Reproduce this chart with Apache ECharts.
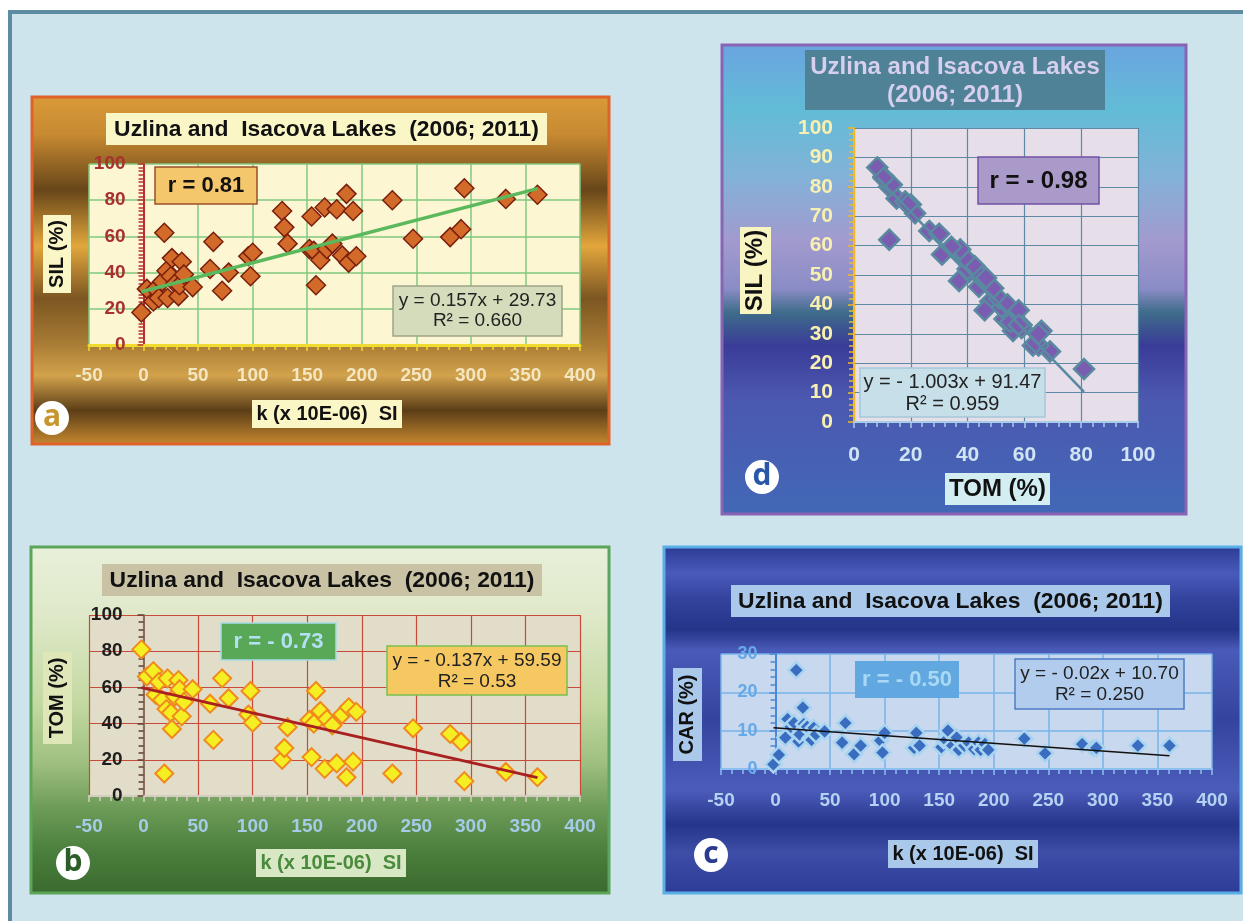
<!DOCTYPE html>
<html>
<head>
<meta charset="utf-8">
<script src="https://cdn.jsdelivr.net/npm/echarts@6/dist/echarts.min.js"></script>
<style>
  html, body { margin: 0; padding: 0; background: #ffffff; }
  #chart { width: 1243px; height: 921px; }
</style>
</head>
<body>
<div id="chart"></div>
<script>
// Samples from Uzlina and Isacova lakes (2006; 2011)
// magnetic susceptibility k (x 10E-06 SI) and sediment fractions (%)
const kValues   = [-2, 3, 9, 11, 14, 17, 19, 21, 22, 25, 26, 29, 32, 33, 35, 37, 45, 61, 64, 72, 78, 96, 98, 100,
                   127, 129, 132, 152, 154, 156, 158, 162, 166, 168, 173, 177, 182, 186, 188, 192, 195,
                   228, 247, 281, 291, 294, 332, 361];
const silValues = [18, 31, 24, 31, 26, 35, 62, 41, 26, 38, 48, 34, 27, 33, 46, 39, 32, 42, 57, 30, 40, 49, 38, 51,
                   74, 65, 56, 53, 71, 52, 33, 47, 76, 53, 56, 75, 49.5, 83.5, 45.5, 74, 49,
                   80, 58.7, 59.6, 64, 86.6, 80.7, 83];
const tomValues = [81, 66, 69, 56, 63, 53, 12.4, 48, 65, 46, 37, 55, 64, 59, 44, 52, 59, 51, 31, 65, 54, 45, 58, 40.5,
                   20, 26.5, 38, 42, 21.5, 40, 58, 47, 15, 42.5, 39, 18, 45, 10.4, 49, 19, 46.5,
                   12.4, 37.4, 34.3, 30, 8.2, 13.3, 10.4];
const carValues = [1.2, 3.7, 8.2, 13, 11, 12, 25.8, 7.2, 9, 16, 11.7, 11, 8, 7.6, 10.7, 9, 9.8, 6.9, 12, 3.9, 6.1, 7.4, 4.3, 9.4,
                   5.5, 9.4, 6.1, 5.7, 7.5, 7.5, 10, 6.1, 8.2, 5, 6.1, 6.9, 5.2, 6.9, 5, 6.5, 5,
                   7.9, 4.1, 6.5, 5.4, 5.5, 6.1, 6.1];

// Axis tick labels
const kTicks   = [-50, 0, 50, 100, 150, 200, 250, 300, 350, 400];
const pctTicks = [0, 20, 40, 60, 80, 100];
const carTicks = [0, 10, 20, 30];
const silTicksD = [0, 10, 20, 30, 40, 50, 60, 70, 80, 90, 100];
const tomTicksD = [0, 20, 40, 60, 80, 100];

// Linear fits [slope, intercept], coefficient of determination and correlation
const fitSilK = [0.157, 29.73];   const r2SilK = '0.660'; const rSilK = '0.81';
const fitTomK = [-0.137, 59.59];  const r2TomK = '0.53';  const rTomK = '- 0.73';
const fitCarK = [-0.02, 10.70];   const r2CarK = '0.250'; const rCarK = '- 0.50';
const fitSilTom = [-1.003, 91.47]; const r2SilTom = '0.959'; const rSilTom = '- 0.98';

const titleText = 'Uzlina and  Isacova Lakes  (2006; 2011)';
const FONT = '"Liberation Sans", Arial, sans-serif';

function pairs(xs, ys) { return xs.map((x, i) => [x, ys[i]]); }
function trend(fit, xs) {
  const lo = Math.min(...xs), hi = Math.max(...xs);
  return [[lo, fit[0] * lo + fit[1]], [hi, fit[0] * hi + fit[1]]];
}
function eqText(fit) {
  const s = fit[0] < 0 ? '- ' + Math.abs(fit[0]) : String(fit[0]);
  const b = fit[1] < 0 ? '- ' + Math.abs(fit[1]).toFixed(2) : '+ ' + fit[1].toFixed(2);
  return 'y = ' + s + 'x ' + b;
}
function ticksRange(t) { return { min: t[0], max: t[t.length - 1], interval: t[1] - t[0] }; }
function grad(stops) {
  return new echarts.graphic.LinearGradient(0, 0, 0, 1, stops.map(s => ({ offset: s[0], color: s[1] })));
}

const graphics = [];
function rect(x, y, w, h, fill, stroke, lw, z) {
  graphics.push({ type: 'rect', z: z == null ? 50 : z, shape: { x, y, width: w, height: h },
    style: { fill, stroke: stroke || null, lineWidth: lw || 0 } });
}
function text(x, y, str, size, color, opts) {
  opts = opts || {};
  graphics.push({ type: 'text', z: 60, x, y, rotation: opts.rot || 0, scaleX: opts.sx || 1,
    style: { text: str, fill: color, align: 'center', verticalAlign: 'middle',
      font: (opts.weight || 'bold') + ' ' + size + 'px ' + (opts.family || FONT) } });
}
function badge(cx, cy, letter, color) {
  graphics.push({ type: 'circle', z: 50, shape: { cx, cy, r: 17 }, style: { fill: '#ffffff' } });
  text(cx, cy - 1, letter, 30, color, { family: '"Open Sans", "DejaVu Sans", sans-serif' });
}

// page backdrop and frame
rect(10, 12, 1260, 940, '#cde4ec', '#5d8ca2', 4, -30);

// ---------- panel frames ----------
// a: SIL vs k
rect(32, 97, 577, 347, grad([[0, '#d99a38'], [0.11, '#c88a32'], [0.27, '#684619'], [0.43, '#e2a63c'],
  [0.58, '#7c5622'], [0.71, '#a87c34'], [0.80, '#d2a24c'], [0.90, '#5c3e17'], [1, '#c98a30']]), '#e0622a', 3, -20);
// d: SIL vs TOM
rect(722, 45, 464, 469, grad([[0, '#6aa4e0'], [0.14, '#62bcd6'], [0.28, '#82b2d8'], [0.42, '#a29ace'],
  [0.52, '#8a8cc6'], [0.57, '#3e6c8a'], [0.64, '#3a3c98'], [0.75, '#4c58b0'], [1, '#4268b6']]), '#8a64b4', 3, -20);
// b: TOM vs k
rect(31, 547, 578, 346, grad([[0, '#e8f0da'], [0.2, '#dfe9c9'], [0.45, '#c4d9a2'], [0.62, '#9fc080'],
  [0.75, '#6e9c58'], [0.88, '#4a7e3c'], [1, '#3a6a2e']]), '#5aa55a', 3, -20);
// c: CAR vs k
rect(664, 547, 577, 346, grad([[0, '#2a3a92'], [0.08, '#4a5abb'], [0.15, '#34449e'], [0.24, '#243488'],
  [0.3, '#4a5ab8'], [0.5, '#34449e'], [0.7, '#4c5cba'], [0.8, '#25358a'], [0.88, '#3e4ea8'], [1, '#2c3c96']]), '#5aaee8', 3, -20);

// ---------- panel a annotations ----------
rect(106, 113, 441, 32, '#fbf6c6');
text(326.5, 129.5, titleText, 22, '#111111', { sx: 1.04 });
rect(155, 167, 102, 37, '#f5c76c', '#9a5028', 1.5);
text(206, 186, 'r = ' + rSilK, 22, '#111111');
rect(393, 286, 169, 50, '#d5dcbc', '#a0a488', 1.5);
text(477.5, 300.5, eqText(fitSilK), 19, '#222222', { weight: 'normal' });
text(477.5, 321, 'R² = ' + r2SilK, 19, '#222222', { weight: 'normal' });
rect(43, 215, 28, 78, '#fbf6c6');
text(57, 254, 'SIL (%)', 20, '#111111', { rot: Math.PI / 2 });
rect(252, 400, 150, 28, '#fbf6c6');
text(327, 414.5, 'k (x 10E-06)  SI', 20, '#111111');
badge(52, 418, 'a', '#c8962e');

// ---------- panel d annotations ----------
rect(805, 50, 300, 60, '#4f8197');
text(955, 67, 'Uzlina and Isacova Lakes', 24, '#d6cfee');
text(955, 95, '(2006; 2011)', 24, '#d6cfee');
rect(978, 157, 121, 47, '#a99ac9', '#7352a6', 1.5);
text(1038.5, 181, 'r = ' + rSilTom, 24, '#111111');
rect(860, 368, 185, 49, '#c6dfe9', '#a5c8d8', 1.5);
text(952.5, 382.5, eqText(fitSilTom), 20, '#222222', { weight: 'normal' });
text(952.5, 404, 'R² = ' + r2SilTom, 20, '#222222', { weight: 'normal' });
rect(740, 227, 31, 87, '#f8f5c2');
text(755.5, 270.5, 'SIL (%)', 24, '#111111', { rot: Math.PI / 2 });
rect(945, 473, 105, 32, '#d2eef2');
text(997.5, 489.5, 'TOM (%)', 24, '#111111');
badge(762, 477, 'd', '#2a56a8');

// ---------- panel b annotations ----------
rect(102, 564, 440, 32, '#c9c2a4');
text(322, 580.5, titleText, 22, '#111111', { sx: 1.04 });
rect(221, 623, 115, 37, '#58a858', '#a8dce8', 1.5);
text(278.5, 642, 'r = ' + rTomK, 22, '#b4e0f2');
rect(387, 646, 180, 49, '#f5c862', '#78c050', 1.5);
text(477, 660.5, eqText(fitTomK), 19, '#222222', { weight: 'normal' });
text(477, 682, 'R² = ' + r2TomK, 19, '#222222', { weight: 'normal' });
rect(43, 652, 29, 92, '#dfe6b8');
text(57.5, 698, 'TOM (%)', 20, '#111111', { rot: Math.PI / 2 });
rect(256, 849, 150, 28, '#d8e8c4');
text(331, 863.5, 'k (x 10E-06)  SI', 20, '#4a8a3c');
badge(73, 863, 'b', '#2c5e28');

// ---------- panel c annotations ----------
rect(731, 585, 439, 32, '#a9c8ea');
text(950.5, 601.5, titleText, 22, '#111111', { sx: 1.04 });
rect(855, 661, 104, 37, '#62a8e0');
text(907, 680, 'r = ' + rCarK, 22, '#a8d8f4');
rect(1015, 659, 169, 50, '#b2ccee', '#4d7cc4', 1.5);
text(1099.5, 673.5, eqText(fitCarK), 19, '#222222', { weight: 'normal' });
text(1099.5, 695, 'R² = ' + r2CarK, 19, '#222222', { weight: 'normal' });
rect(673, 668, 29, 93, '#a9c8ea');
text(687.5, 714.5, 'CAR (%)', 20, '#111111', { rot: Math.PI / 2 });
rect(888, 840, 150, 28, '#a9c8ea');
text(963, 854.5, 'k (x 10E-06)  SI', 20, '#111111');
badge(711, 855, 'c', '#2b3c90');

// ---------- axes ----------
const gridBoxes = [
  { left: 89, top: 164, width: 491, height: 181, backgroundColor: '#fcf7d2' },   // a
  { left: 89, top: 615, width: 491, height: 181, backgroundColor: '#e2ddc8' },   // b
  { left: 721, top: 654, width: 491, height: 115, backgroundColor: '#c8d8ee' },  // c
  { left: 854, top: 128, width: 284, height: 294, backgroundColor: '#e6dfea' }   // d
];
const grids = gridBoxes.map(g => Object.assign({ show: true, borderWidth: 0, containLabel: false, outerBoundsMode: 'none' }, g));

function axis(ticks, o) {
  const r = ticksRange(ticks);
  return {
    gridIndex: o.grid, type: 'value', min: r.min, max: r.max, interval: r.interval,
    offset: o.offset || 0,
    axisLine: { show: true, onZero: false, lineStyle: { color: o.line, width: o.lineWidth || 2 } },
    axisTick: { show: true, inside: false, length: 6, lineStyle: { color: o.tick || o.line, width: 1.5 } },
    minorTick: { show: true, splitNumber: o.minor, length: 5, lineStyle: { color: o.tick || o.line, width: 1.5 } },
    axisLabel: { show: true, margin: o.margin, color: o.label, fontSize: o.size, fontWeight: 'bold', fontFamily: FONT },
    splitLine: { show: true, lineStyle: { color: o.grid_c, width: o.gridW || 1.5 } },
    minorSplitLine: { show: false }
  };
}
// the vertical axis stands at x = 0 of the horizontal scale
function zeroOffset(xTicks, gridIdx) {
  const r = ticksRange(xTicks);
  return -(0 - r.min) / (r.max - r.min) * gridBoxes[gridIdx].width;
}

const xAxes = [
  axis(kTicks, { grid: 0, line: '#f0dc30', lineWidth: 3, minor: 5, margin: 21, label: '#f3e6c0', size: 19, grid_c: '#80c880' }),
  axis(kTicks, { grid: 1, line: '#d2cdc0', minor: 5, margin: 21, label: '#a4cce8', size: 19, grid_c: '#c84a3a', gridW: 1.2 }),
  axis(kTicks, { grid: 2, line: '#8cc0f0', minor: 5, margin: 22, label: '#b4d2f2', size: 19, grid_c: '#78b4e8' }),
  axis(tomTicksD, { grid: 3, line: '#a8cce8', minor: 5, margin: 23, label: '#d0e4f4', size: 21, grid_c: '#5e88a4', gridW: 1.2 })
];
const yAxes = [
  axis(pctTicks, { grid: 0, offset: zeroOffset(kTicks, 0), line: '#b83030', minor: 10, margin: 18, label: '#a83030', size: 19, grid_c: '#80c880' }),
  axis(pctTicks, { grid: 1, offset: zeroOffset(kTicks, 1), line: '#8a7060', tick: '#5a4030', minor: 5, margin: 21, label: '#1e1e1e', size: 19, grid_c: '#c84a3a', gridW: 1.2 }),
  axis(carTicks, { grid: 2, offset: zeroOffset(kTicks, 2), line: '#4a88d8', minor: 5, margin: 18, label: '#66a8e8', size: 18, grid_c: '#78b4e8' }),
  axis(silTicksD, { grid: 3, offset: zeroOffset(tomTicksD, 3), line: '#f0b828', minor: 5, margin: 21, label: '#f8f0b0', size: 21, grid_c: '#5e88a4', gridW: 1.2 })
];

function scatter(i, data, size, fill, border, bw) {
  return { type: 'scatter', xAxisIndex: i, yAxisIndex: i, data, symbol: 'diamond', symbolSize: size,
    itemStyle: { color: fill, borderColor: border, borderWidth: bw, opacity: 1 }, z: 3, silent: true };
}
function line(i, data, color, width) {
  return { type: 'line', xAxisIndex: i, yAxisIndex: i, data, showSymbol: false, symbol: 'none',
    lineStyle: { color, width }, z: 4, silent: true };
}

const series = [
  scatter(0, pairs(kValues, silValues), 19, '#d26a2a', '#7a1e0e', 1.5),
  line(0, trend(fitSilK, kValues), '#5cb85c', 3.5),
  scatter(1, pairs(kValues, tomValues), 18, '#f5ee22', '#f08a1e', 2),
  line(1, trend(fitTomK, kValues), '#a82020', 3),
  scatter(2, pairs(kValues, carValues), 16, '#3a6cc0', '#a8d4f0', 2.5),
  line(2, trend(fitCarK, kValues), '#111111', 1.5),
  scatter(3, pairs(tomValues, silValues), 20, '#7a5cb0', '#5a8aa0', 2.5),
  line(3, trend(fitSilTom, tomValues), '#5a8aa0', 2.5)
];

const chart = echarts.init(document.getElementById('chart'), null, { renderer: 'canvas' });
chart.setOption({
  animation: false,
  grid: grids,
  xAxis: xAxes,
  yAxis: yAxes,
  series,
  graphic: { elements: graphics }
});
</script>
</body>
</html>
